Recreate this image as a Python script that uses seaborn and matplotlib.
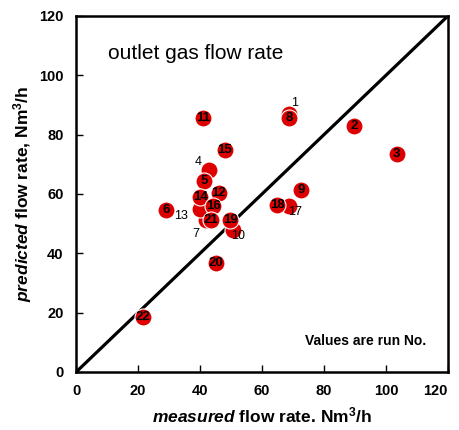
import pandas as pd
import matplotlib
matplotlib.use("Agg")
import matplotlib.pyplot as plt
import seaborn as sns

# --- datos ---
run_no = [1, 2, 3, 4, 5, 6, 7, 8, 9, 10, 11, 12, 13, 14, 15, 16, 17, 18, 19, 20, 21, 22]
measured = [68.8, 89.7, 103.4, 42.9, 41.2, 28.9, 41.8, 68.8, 72.6, 50.5, 40.9,
            46.0, 40.1, 40.1, 48.0, 44.2, 68.8, 64.9, 49.8, 45.1, 43.5, 21.6]
predicted = [87.0, 82.8, 73.5, 68.1, 64.4, 54.5, 51.3, 85.5, 61.4, 48.0, 85.6,
             60.3, 55.0, 58.8, 74.7, 55.9, 55.8, 56.4, 51.3, 36.7, 51.1, 18.4]
# etiquetas que van fuera del circulo (desplazamiento en puntos)
outside = {1: (4, 8), 4: (-8, 6), 7: (-7, -10), 10: (4, -5), 13: (-14, -5), 17: (4, -4)}

df = pd.DataFrame({"run": run_no, "measured": measured, "predicted": predicted})

sns.set_style("ticks")
plt.rcParams["font.family"] = ["Liberation Sans", "DejaVu Sans"]
plt.rcParams["mathtext.fontset"] = "custom"
plt.rcParams["mathtext.rm"] = "Liberation Sans:bold"
plt.rcParams["mathtext.it"] = "Liberation Sans:italic:bold"
plt.rcParams["mathtext.bf"] = "Liberation Sans:bold"
for k in ["text.color", "axes.labelcolor", "xtick.color", "ytick.color", "axes.edgecolor"]:
    plt.rcParams[k] = "black"

fig = plt.figure(figsize=(4.59, 4.30), dpi=100)
ax = fig.add_axes([0.166, 0.135, 0.81, 0.828])

ax.plot([0, 120], [0, 120], color="black", lw=2.3, zorder=1)

sns.scatterplot(data=df, x="measured", y="predicted", ax=ax, s=150,
                color="#dd0000", edgecolor="white", linewidth=0.8, zorder=2, legend=False)

for r, x, y in zip(run_no, measured, predicted):
    if r in outside:
        dx, dy = outside[r]
        ax.annotate(str(r), (x, y), xytext=(dx, dy), textcoords="offset points",
                    ha="center", va="center", fontsize=9, color="black", zorder=3)
    else:
        ax.annotate(str(r), (x, y), ha="center", va="center", fontsize=9.5,
                    fontweight="bold", color="black", zorder=3)

ax.text(10.3, 107.2, "outlet gas flow rate", fontsize=15, va="center", ha="left")
ax.text(74, 10.4, "Values are run No.", fontsize=10, fontweight="bold", va="center", ha="left")

ax.set_xlim(0, 120)
ax.set_ylim(0, 120)
ax.set_xticks(range(0, 121, 20))
ax.set_yticks(range(0, 121, 20))
ax.tick_params(direction="in", length=5, width=1, labelsize=10.5, pad=9, colors="black")
for lab in ax.get_xticklabels() + ax.get_yticklabels():
    lab.set_fontweight("bold")
ax.get_xticklabels()[-1].set_horizontalalignment("right")
for sp in ax.spines.values():
    sp.set_visible(True)
    sp.set_linewidth(1.8)
    sp.set_color("black")

ax.set_xlabel(r"$\mathit{measured}$ flow rate. Nm$^3$/h", fontsize=12.5, fontweight="bold", labelpad=5)
ax.set_ylabel(r"$\mathit{predicted}$ flow rate, Nm$^3$/h", fontsize=12.5, fontweight="bold", labelpad=4)

fig.savefig("out.png", dpi=100)
